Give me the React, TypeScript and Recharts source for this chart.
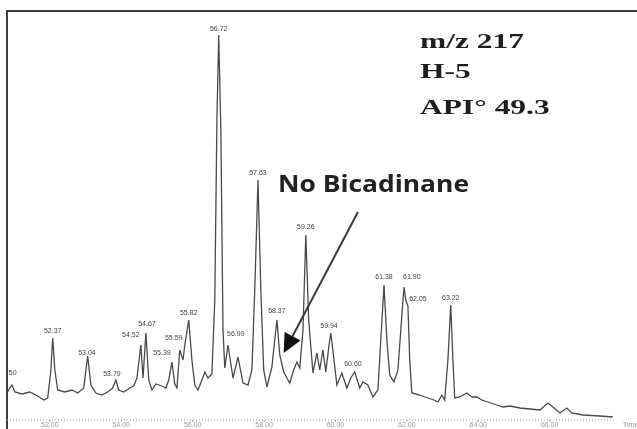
import React from "react";
import {
  LineChart,
  Line,
  XAxis,
  YAxis,
  LabelList,
  Label,
  ReferenceLine,
} from "recharts";

// retention time (min) and abundance of the m/z 217 trace
const rtMinutes = [
  50.8, 50.88, 50.94, 51.02, 51.22, 51.44, 51.66, 51.83, 51.94, 52.03,
  52.08, 52.14, 52.22, 52.42, 52.62, 52.78, 52.95, 53.06, 53.15, 53.29,
  53.46, 53.62, 53.76, 53.85, 53.93, 54.07, 54.24, 54.35, 54.44, 54.55,
  54.61, 54.69, 54.77, 54.86, 54.97, 55.14, 55.25, 55.33, 55.42, 55.5,
  55.56, 55.64, 55.73, 55.78, 55.89, 55.98, 56.06, 56.15, 56.26, 56.34,
  56.43, 56.54, 56.62, 56.68, 56.73, 56.79, 56.85, 56.9, 56.99, 57.13,
  57.27, 57.41, 57.55, 57.66, 57.74, 57.83, 57.91, 57.99, 58.08, 58.22,
  58.3, 58.36, 58.44, 58.55, 58.64, 58.72, 58.83, 58.92, 59.0, 59.09,
  59.17, 59.25, 59.37, 59.48, 59.56, 59.65, 59.73, 59.82, 59.87, 59.96,
  60.04, 60.18, 60.32, 60.43, 60.54, 60.68, 60.77, 60.91, 61.05, 61.19,
  61.27, 61.36, 61.44, 61.52, 61.64, 61.75, 61.83, 61.92, 61.97, 62.03,
  62.08, 62.14, 62.36, 62.59, 62.76, 62.87, 62.98, 63.06, 63.15, 63.23,
  63.29, 63.34, 63.48, 63.68, 63.82, 63.96, 64.1, 64.27, 64.52, 64.69,
  64.89, 65.17, 65.45, 65.73, 65.95, 66.09, 66.29, 66.48, 66.62, 66.93,
  67.41, 67.77,
];

const abundance = [
  27, 32, 35, 28, 26, 28, 24, 20, 22, 50,
  82, 50, 30, 28, 30, 27, 32, 64, 35, 27,
  25, 28, 32, 40, 30, 28, 32, 34, 42, 75,
  42, 87, 40, 30, 36, 34, 32, 40, 58, 36,
  32, 70, 60, 75, 100, 60, 35, 30, 40, 48,
  42, 46, 120, 300, 385, 290, 90, 52, 75, 42,
  63, 37, 35, 50, 130, 240, 130, 50, 33, 53,
  80, 100, 65, 48, 42, 37, 50, 58, 52, 90,
  185, 100, 47, 67, 50, 70, 48, 75, 87, 60,
  35, 47, 32, 42, 48, 32, 38, 35, 23, 30,
  80, 135, 80, 45, 38, 50, 90, 133, 120, 114,
  60, 27, 25, 22, 20, 18, 25, 20, 60, 115,
  60, 22, 23, 27, 23, 23, 20, 18, 15, 13,
  14, 12, 11, 10, 17, 13, 7, 12, 7, 5,
  4, 3,
];

// peak annotations: text, and where the text sits
const peakNames = [
  "50", "52.37", "53.04", "53.79", "54.52", "54.67", "55.39", "55.59",
  "55.82", "56.72", "56.99", "57.63", "58.37", "59.26", "59.94", "60.60",
  "61.38", "61.90", "62.05", "63.22",
];
const peakLabelRt = [
  50.96, 52.08, 53.04, 53.74, 54.27, 54.72, 55.14, 55.47,
  55.89, 56.73, 57.21, 57.83, 58.36, 59.17, 59.82, 60.49,
  61.36, 62.14, 62.31, 63.23,
];
const peakLabelHeight = [
  47, 89, 67, 46, 85, 96, 67, 82,
  107, 391, 86, 247, 109, 193, 94, 56,
  143, 143, 121, 122,
];

const timeTicks = [52, 54, 56, 58, 60, 62, 64, 66];

// arrow pointing at the empty bicadinane window
const arrowFrom = { rt: 60.63, y: 208 };
const arrowTo = { rt: 58.55, y: 67 };

const trace = rtMinutes.map((rt, i) => ({ rt, value: abundance[i] }));
const peakLabels = peakNames.map((text, i) => ({
  rt: peakLabelRt[i],
  value: peakLabelHeight[i],
  text,
}));

function Arrow(props: any) {
  const { x1, y1, x2, y2 } = props;
  const dx = x2 - x1;
  const dy = y2 - y1;
  const len = Math.sqrt(dx * dx + dy * dy);
  const ux = dx / len;
  const uy = dy / len;
  const head = 19;
  const half = 9;
  const bx = x2 - ux * head;
  const by = y2 - uy * head;
  return (
    <g>
      <line x1={x1} y1={y1} x2={bx} y2={by} stroke="#3a3a3a" strokeWidth={2} />
      <polygon
        points={`${x2},${y2} ${bx - uy * half},${by + ux * half} ${bx + uy * half},${by - ux * half}`}
        fill="#111"
      />
    </g>
  );
}

const serifText: React.CSSProperties = {
  position: "absolute",
  left: 420,
  fontFamily: "'Liberation Serif', 'Times New Roman', serif",
  fontWeight: 700,
  fontSize: 22,
  lineHeight: "22px",
  color: "#1e1e1e",
  transform: "scaleX(1.43)",
  transformOrigin: "0 0",
  whiteSpace: "nowrap",
};

export default function App() {
  return (
    <div
      style={{
        position: "absolute",
        left: 0,
        top: 0,
        width: 637,
        height: 429,
        background: "#fff",
        overflow: "hidden",
      }}
    >
      <div
        style={{
          position: "absolute",
          left: 6,
          top: 10,
          width: 631,
          height: 419,
          borderTop: "2px solid #3c3c3c",
          borderLeft: "2px solid #3c3c3c",
        }}
      />
      {/* own layer so the tiny labels get grayscale antialiasing */}
      <div style={{ position: "absolute", left: 0, top: 0, willChange: "transform" }}>
        <LineChart
          width={637}
          height={429}
          margin={{ top: 18, right: 22, bottom: 0, left: 7 }}
        >
          <XAxis
            type="number"
            dataKey="rt"
            domain={[50.8, 67.83]}
            allowDataOverflow
            ticks={timeTicks}
            tickFormatter={(v: number) => v.toFixed(2)}
            height={9}
            tick={{ fill: "#999", fontSize: 7, fontFamily: "Arial, sans-serif" }}
            tickSize={2}
            tickMargin={0}
            axisLine={{ stroke: "#9a9a9a", strokeDasharray: "1 2" }}
            tickLine={{ stroke: "#9a9a9a" }}
          >
            <Label
              value="Time"
              position="right"
              offset={8}
              fill="#999"
              fontSize={7}
              fontFamily="Arial, sans-serif"
            />
          </XAxis>
          <YAxis hide domain={[0, 402]} allowDataOverflow />
          <Line
            data={trace}
            dataKey="value"
            type="linear"
            stroke="#4a4a4a"
            strokeWidth={1.3}
            dot={false}
            isAnimationActive={false}
          />
          <Line
            data={peakLabels}
            dataKey="value"
            stroke="none"
            dot={false}
            isAnimationActive={false}
          >
            <LabelList
              dataKey="text"
              position="center"
              fill="#444"
              stroke="none"
              fontSize={7}
              fontFamily="Arial, sans-serif"
            />
          </Line>
          <ReferenceLine
            segment={[
              { x: arrowFrom.rt, y: arrowFrom.y },
              { x: arrowTo.rt, y: arrowTo.y },
            ]}
            shape={Arrow}
          />
        </LineChart>
      </div>
      <div style={{ ...serifText, top: 30 }}>m/z 217</div>
      <div style={{ ...serifText, top: 60 }}>H-5</div>
      <div style={{ ...serifText, top: 96 }}>API° 49.3</div>
      <div
        style={{
          position: "absolute",
          left: 278,
          top: 171,
          fontFamily: "'Open Sans', sans-serif",
          fontWeight: 700,
          fontSize: 24,
          lineHeight: "24px",
          color: "#222",
          transform: "scaleX(1.1)",
          transformOrigin: "0 0",
          whiteSpace: "nowrap",
        }}
      >
        No Bicadinane
      </div>
    </div>
  );
}
